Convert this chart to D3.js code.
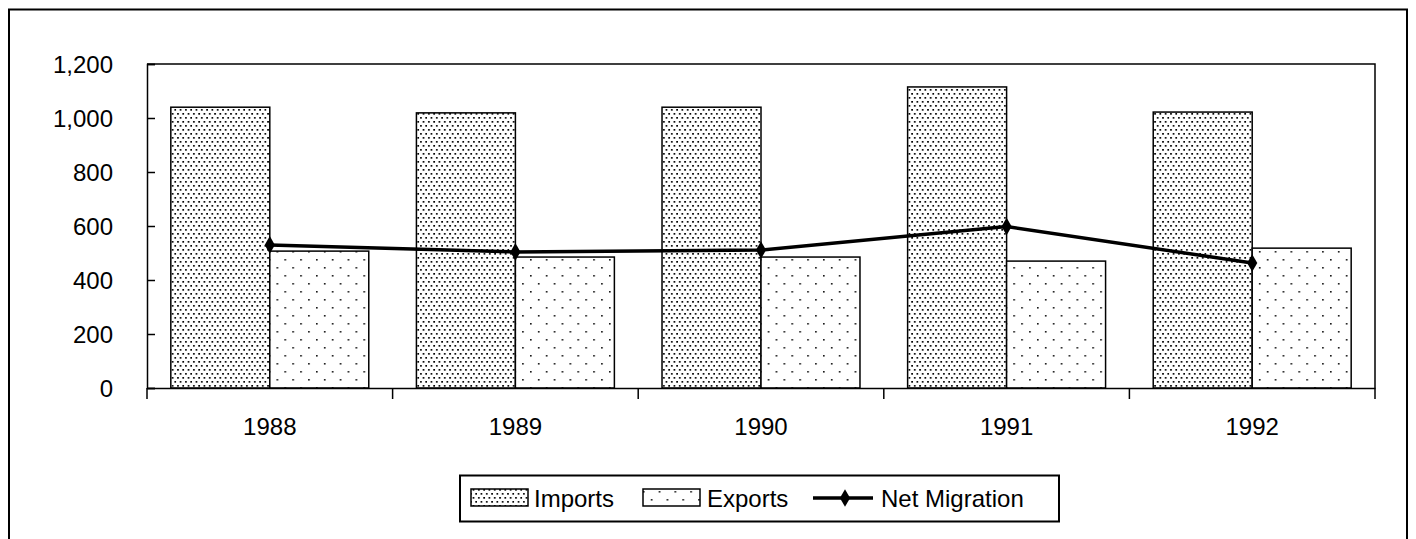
<!DOCTYPE html>
<html>
<head>
<meta charset="utf-8">
<script src="https://cdn.jsdelivr.net/npm/d3@7"></script>
<style>
  html, body { margin: 0; padding: 0; background: #fff; }
  svg { display: block; }
  text { font-family: "Liberation Sans", Arial, sans-serif; fill: #000; }
</style>
</head>
<body>
<svg id="chart" width="1416" height="539"></svg>
<script>
const years = ["1988", "1989", "1990", "1991", "1992"];
const imports = [1040, 1019, 1040, 1115, 1022];
const exportsVals = [507, 485, 485, 470, 518];
const netMigration = [530, 504, 511, 598, 463];
const yTicks = [0, 200, 400, 600, 800, 1000, 1200];
const seriesNames = ["Imports", "Exports", "Net Migration"];

const svg = d3.select("#chart");
const plot = { left: 147, right: 1375, top: 64, bottom: 388 };

// patterns
const defs = svg.append("defs");
const pImp = defs.append("pattern").attr("id", "pImports")
  .attr("patternUnits", "userSpaceOnUse").attr("width", 5.3).attr("height", 8);
pImp.append("rect").attr("width", 5.3).attr("height", 8).attr("fill", "#fff");
pImp.append("rect").attr("x", 1).attr("y", 1).attr("width", 1.7).attr("height", 1.7).attr("fill", "#000");
pImp.append("rect").attr("x", 3.65).attr("y", 5).attr("width", 1.7).attr("height", 1.7).attr("fill", "#000");

const pExp = defs.append("pattern").attr("id", "pExports")
  .attr("patternUnits", "userSpaceOnUse").attr("width", 15.8).attr("height", 16);
pExp.append("rect").attr("width", 15.8).attr("height", 16).attr("fill", "#fff");
pExp.append("rect").attr("x", 3).attr("y", 3).attr("width", 1.6).attr("height", 1.6).attr("fill", "#111");
pExp.append("rect").attr("x", 10.9).attr("y", 11).attr("width", 1.6).attr("height", 1.6).attr("fill", "#111");

// outer frame (bottom edge cut off)
svg.append("rect").attr("x", 9).attr("y", 9.5).attr("width", 1398).attr("height", 600)
  .attr("fill", "none").attr("stroke", "#000").attr("stroke-width", 2);

// scales
const x = d3.scaleBand().domain(years).range([plot.left, plot.right]).padding(0);
const groupFrac = 0.806;
const xSeries = d3.scaleBand().domain(["Imports", "Exports"])
  .range([0, x.bandwidth() * groupFrac]).padding(0);
const groupOffset = x.bandwidth() * (1 - groupFrac) / 2;
const y = d3.scaleLinear().domain([0, 1200]).range([plot.bottom, plot.top]);

// plot box (top & right)
svg.append("path")
  .attr("d", `M${plot.left},${plot.top}H${plot.right}V${plot.bottom}`)
  .attr("fill", "none").attr("stroke", "#000").attr("stroke-width", 1.5);

// bars
const data = years.map((yr, i) => ({ yr, Imports: imports[i], Exports: exportsVals[i] }));
const groups = svg.append("g").selectAll("g").data(data).join("g")
  .attr("transform", d => `translate(${x(d.yr) + groupOffset},0)`);
groups.selectAll("rect").data(d => [
    { k: "Imports", v: d.Imports }, { k: "Exports", v: d.Exports }])
  .join("rect")
  .attr("x", d => xSeries(d.k))
  .attr("y", d => y(d.v))
  .attr("width", xSeries.bandwidth())
  .attr("height", d => y(0) - y(d.v))
  .attr("fill", d => d.k === "Imports" ? "url(#pImports)" : "url(#pExports)")
  .attr("stroke", "#000").attr("stroke-width", 1.5);

// y axis
const yAxis = d3.axisLeft(y).tickValues(yTicks)
  .tickSize(-8).tickPadding(34)
  .tickFormat(d3.format(","));
const gy = svg.append("g").attr("transform", `translate(${plot.left},0)`).call(yAxis);
gy.select(".domain").attr("stroke", "#000").attr("stroke-width", 1.5);
gy.selectAll(".tick line").attr("stroke", "#000").attr("stroke-width", 1.5);
gy.selectAll(".tick text").style("font-size", "24px").attr("dy", "0.36em");

// x axis
const xAxis = d3.axisBottom(x).tickSize(0).tickPadding(30);
const gx = svg.append("g").attr("transform", `translate(0,${plot.bottom})`).call(xAxis);
gx.select(".domain").attr("stroke", "#000").attr("stroke-width", 1.5);
gx.selectAll(".tick text").style("font-size", "24px");
const bounds = years.map(yr => x(yr)).concat([x(years[years.length - 1]) + x.step()]);
gx.selectAll(".sep").data(bounds).join("line").attr("class", "sep")
  .attr("x1", d => d).attr("x2", d => d).attr("y1", 0).attr("y2", 11)
  .attr("stroke", "#000").attr("stroke-width", 1.5);

// net migration line
const cx = yr => x(yr) + x.bandwidth() / 2;
const line = d3.line().x((d, i) => cx(years[i])).y(d => y(d));
svg.append("path").datum(netMigration).attr("d", line)
  .attr("fill", "none").attr("stroke", "#000").attr("stroke-width", 3.5);
const diamond = d3.symbol().type(d3.symbolDiamond).size(90);
svg.append("g").selectAll("path").data(netMigration).join("path")
  .attr("transform", (d, i) => `translate(${cx(years[i])},${y(d)})`)
  .attr("d", diamond).attr("fill", "#000");

// legend
const lg = svg.append("g");
lg.append("rect").attr("x", 460).attr("y", 475.5).attr("width", 599).attr("height", 46)
  .attr("fill", "#fff").attr("stroke", "#000").attr("stroke-width", 2);
const legendItems = [
  { name: seriesNames[0], sx: 471, tx: 534, type: "Imports" },
  { name: seriesNames[1], sx: 643, tx: 707, type: "Exports" },
  { name: seriesNames[2], sx: 813, tx: 881, type: "line" }
];
legendItems.forEach(it => {
  if (it.type === "line") {
    lg.append("line").attr("x1", it.sx).attr("x2", it.sx + 60).attr("y1", 498).attr("y2", 498)
      .attr("stroke", "#000").attr("stroke-width", 3.5);
    lg.append("path").attr("d", diamond).attr("transform", `translate(${it.sx + 32},498)`).attr("fill", "#000");
  } else {
    lg.append("rect").attr("x", it.sx).attr("y", 489).attr("width", 57).attr("height", 17)
      .attr("fill", it.type === "Imports" ? "url(#pImports)" : "url(#pExports)")
      .attr("stroke", "#000").attr("stroke-width", 1.5);
  }
  lg.append("text").attr("x", it.tx).attr("y", 498).attr("dy", "0.36em")
    .style("font-size", "24px").text(it.name);
});
</script>
</body>
</html>
